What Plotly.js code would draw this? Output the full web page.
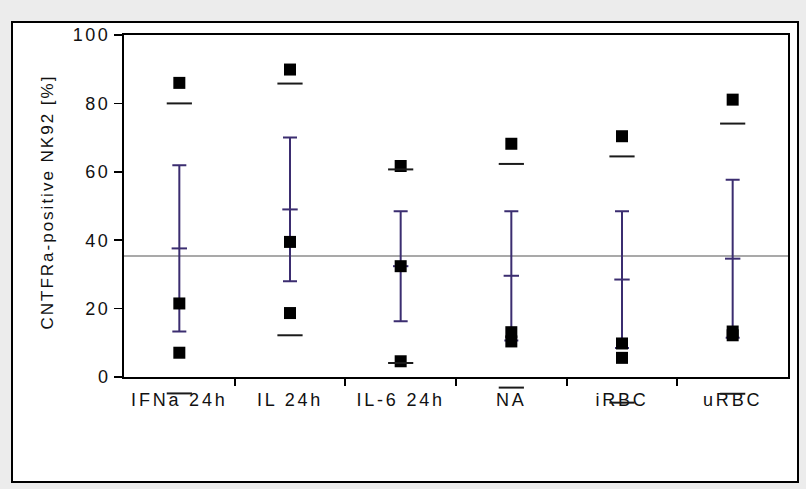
<!DOCTYPE html>
<html>
<head>
<meta charset="utf-8">
<script src="https://cdn.plot.ly/plotly-3.0.1.min.js"></script>
<style>
html, body { margin: 0; padding: 0; background: #ececec; }
#chart { width: 806px; height: 489px; }
.xtick text { letter-spacing: 2.8px; }
.ytick text { letter-spacing: 2.5px; }
.annotation-text { letter-spacing: 2px; }
</style>
</head>
<body>
<div id="chart"></div>
<script>
// ---- data ----
const categories = ["IFNa 24h", "IL 24h", "IL-6 24h", "NA", "iRBC", "uRBC"];
const pointsIFNa = [86.0, 21.5, 7.1];
const pointsIL   = [89.9, 39.5, 18.7];
const pointsIL6  = [61.7, 32.4, 4.6];
const pointsNA   = [68.2, 13.1, 10.4];
const pointsiRBC = [70.4, 9.8, 5.6];
const pointsuRBC = [81.1, 13.3, 12.2];
const means = [37.6, 49.0, 32.4, 29.6, 28.5, 34.6];
const sems  = [24.3, 21.0, 16.1, 18.9, 20.0, 23.1];
const sds   = [42.4, 36.8, 28.3, 32.7, 36.0, 39.5];
const refLine = 35.4;
const yTicks = [0, 20, 40, 60, 80, 100];
const yTitle = "CNTFRa-positive NK92 [%]";

// ---- build traces ----
const allPoints = [pointsIFNa, pointsIL, pointsIL6, pointsNA, pointsiRBC, pointsuRBC];
const px = [], py = [];
allPoints.forEach((arr, i) => arr.forEach(v => { px.push(categories[i]); py.push(v); }));

const dashX = categories.concat(categories);
const dashY = means.map((m, i) => m + sds[i]).concat(means.map((m, i) => m - sds[i]));

const purple = '#3b2d70';
const boundaries = categories.slice(1).map((c, i) => i + 0.5);

// pixel geometry of the plot box
const L = 124, R = 788, T = 35, B = 377;
const BX = 415;              // extended bottom for marks drawn below the axis
const W = R - L, H = B - T;
const extra = (BX - B) / H * 100;   // value span of the extension

const traces = [
  { x: [-0.5, 5.5], y: [null, null], xaxis: 'x2', yaxis: 'y', mode: 'markers', hoverinfo: 'skip' },
  { x: dashX, y: dashY, xaxis: 'x', yaxis: 'y3', mode: 'markers', cliponaxis: false,
    marker: { symbol: 'line-ew', size: 18, color: '#1a1a1a', line: { width: 2, color: '#1a1a1a' } } },
  { x: categories, y: means, mode: 'markers', cliponaxis: false,
    error_y: { type: 'data', array: sems, visible: true, color: purple, thickness: 2, width: 7 },
    marker: { symbol: 'line-ew', size: 11, color: purple, line: { width: 2, color: purple } } },
  { x: px, y: py, mode: 'markers', cliponaxis: false,
    marker: { symbol: 'square', size: 12, color: '#000000' } }
];

const layout = {
  width: 806, height: 489,
  margin: { l: L, r: 806 - R, t: T, b: 489 - BX, pad: 0 },
  paper_bgcolor: '#ececec',
  plot_bgcolor: 'rgba(0,0,0,0)',
  showlegend: false,
  font: { family: 'Liberation Sans, Arial, sans-serif', color: '#111111' },
  xaxis: {
    type: 'category', categoryarray: categories, range: [-0.5, 5.5], anchor: 'y',
    showline: true, mirror: true, linecolor: '#000', linewidth: 2,
    ticks: '', showgrid: false, zeroline: false, tickangle: 0,
    tickfont: { size: 18, color: '#111111' }, ticklabelstandoff: 5
  },
  xaxis2: {
    overlaying: 'x', anchor: 'y', side: 'bottom', range: [-0.5, 5.5],
    tickmode: 'array', tickvals: boundaries,
    ticks: 'outside', ticklen: 8, tickwidth: 2, tickcolor: '#000',
    showticklabels: false, showgrid: false, zeroline: false, showline: false
  },
  yaxis: {
    domain: [(BX - B) / (BX - T), 1],
    range: [0, 100], tickmode: 'array', tickvals: yTicks,
    ticks: 'outside', ticklen: 8, tickwidth: 1.5, tickcolor: '#000',
    showline: true, mirror: true, linecolor: '#000', linewidth: 2,
    showgrid: false, zeroline: false,
    tickfont: { size: 18, color: '#111111' }
  },
  yaxis3: {
    domain: [0, 1], anchor: 'x', range: [-extra, 100],
    visible: false, showgrid: false, zeroline: false, fixedrange: true
  },
  shapes: [
    { type: 'rect', xref: 'paper', yref: 'paper', layer: 'below',
      x0: (12 - L) / W, x1: (798 - L) / W, y0: (BX - 482) / (BX - T), y1: (BX - 22) / (BX - T),
      line: { color: '#000', width: 2 }, fillcolor: '#ffffff' },
    { type: 'line', xref: 'paper', yref: 'y', layer: 'below',
      x0: 0, x1: 1, y0: refLine, y1: refLine,
      line: { color: '#8c8c8c', width: 1.5 } }
  ],
  annotations: [
    { text: yTitle, xref: 'paper', yref: 'paper', x: (47 - L) / W, y: (BX - 202.5) / (BX - T),
      xanchor: 'center', yanchor: 'middle', textangle: -90, showarrow: false,
      font: { size: 17, color: '#111111' } }
  ]
};

Plotly.newPlot('chart', traces, layout, { displayModeBar: false, staticPlot: true });
</script>
</body>
</html>
